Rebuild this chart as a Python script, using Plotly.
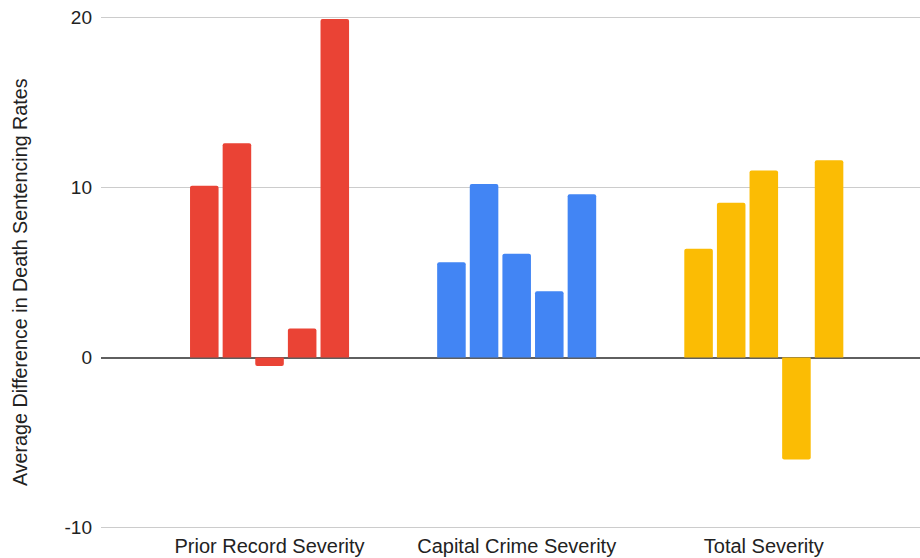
import plotly.graph_objects as go

# Categories on the x axis
categories = ["Prior Record Severity", "Capital Crime Severity", "Total Severity"]

# Five measurements per category (average difference in death sentencing rates)
prior_record = [10.1, 12.6, -0.5, 1.7, 19.9]
capital_crime = [5.6, 10.2, 6.1, 3.9, 9.6]
total_severity = [6.4, 9.1, 11.0, -6.0, 11.6]

# Colour per category
category_colors = ["#EA4335", "#4285F4", "#FBBC04"]

y_ticks = [-10, 0, 10, 20]
y_tick_text = ["-10", "0", "10", "20"]
y_title = "Average Difference in Death Sentencing Rates"

fig = go.Figure()
for i in range(len(prior_record)):
    fig.add_trace(go.Bar(
        x=categories,
        y=[prior_record[i], capital_crime[i], total_severity[i]],
        marker=dict(color=category_colors, line=dict(width=0)),
        showlegend=False,
        hoverinfo="x+y",
    ))

font_family = "Liberation Sans, Arial, sans-serif"

fig.update_layout(
    width=920,
    height=558,
    margin=dict(l=101, r=0, t=14, b=27),
    paper_bgcolor="white",
    plot_bgcolor="white",
    barmode="group",
    bargap=0.34,
    bargroupgap=0.125,
    barcornerradius=2,
    font=dict(family=font_family, size=19, color="#222222"),
    xaxis=dict(
        type="category",
        range=[-0.682, 2.632],
        showgrid=False,
        showline=False,
        zeroline=False,
        ticks="",
        ticklabelstandoff=1,
        automargin=False,
        tickfont=dict(size=20, color="#222222"),
    ),
    yaxis=dict(
        range=[-10.2, 20.2],
        tickvals=y_ticks,
        ticktext=y_tick_text,
        showgrid=True,
        gridcolor="#cccccc",
        gridwidth=1,
        zeroline=True,
        zerolinecolor="#5f5f5f",
        zerolinewidth=2,
        showline=False,
        ticks="",
        ticklabelstandoff=8,
        automargin=False,
        tickfont=dict(size=19, color="#222222"),
    ),
    annotations=[dict(
        text=y_title,
        xref="paper", yref="paper",
        x=0, y=0.4816,
        xanchor="center", yanchor="middle",
        xshift=-81,
        textangle=-90,
        showarrow=False,
        font=dict(size=19.7, color="#222222"),
    )],
)

fig.write_html("out.html")
